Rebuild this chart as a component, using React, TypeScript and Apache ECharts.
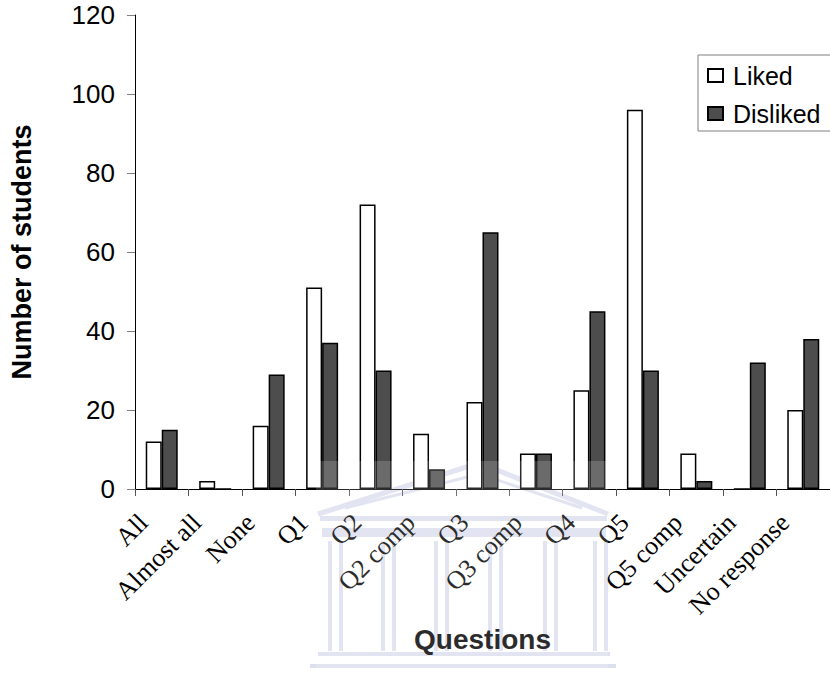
import React, { useEffect, useRef } from "react";
import * as echarts from "echarts";

const categories = [
  "All",
  "Almost all",
  "None",
  "Q1",
  "Q2",
  "Q2 comp",
  "Q3",
  "Q3 comp",
  "Q4",
  "Q5",
  "Q5 comp",
  "Uncertain",
  "No response",
];
const liked = [12, 2, 16, 51, 72, 14, 22, 9, 25, 96, 9, 0, 20];
const disliked = [15, 0, 29, 37, 30, 5, 65, 9, 45, 30, 2, 32, 38];
const seriesNames = ["Liked", "Disliked"];

const SANS = "Liberation Sans, Arial, sans-serif";
const SERIF = "Liberation Serif, Times New Roman, serif";
const MARK = "#dcdfee";

// faint university-building emblem behind the lower part of the plot
function emblem() {
  const colX = [328, 381, 434, 488, 543, 593];
  const cols: any[] = [];
  colX.forEach((x) => {
    cols.push({ type: "rect", shape: { x, y: 541, width: 4, height: 110 }, style: { fill: MARK } });
    cols.push({ type: "rect", shape: { x: x + 11, y: 541, width: 4, height: 110 }, style: { fill: MARK } });
  });
  return [
    {
      type: "rect",
      shape: { x: 316, y: 461, width: 292, height: 216 },
      style: { fill: "rgba(255,255,255,0.17)" },
      z: 100,
    },
    {
      type: "group",
      z: 0,
      children: [
        { type: "polyline", shape: { points: [[318, 514], [479, 463], [608, 514]] }, style: { stroke: MARK, lineWidth: 5, fill: null } },
        { type: "polyline", shape: { points: [[345, 508], [479, 474], [582, 508]] }, style: { stroke: MARK, lineWidth: 3, fill: null } },
        { type: "rect", shape: { x: 320, y: 516, width: 287, height: 5 }, style: { fill: MARK } },
        { type: "rect", shape: { x: 322, y: 528, width: 284, height: 9 }, style: { fill: MARK } },
        ...cols,
        { type: "rect", shape: { x: 318, y: 652, width: 292, height: 4 }, style: { fill: MARK } },
        { type: "rect", shape: { x: 310, y: 664, width: 306, height: 4 }, style: { fill: MARK } },
      ],
    },
  ];
}

export default function App() {
  const ref = useRef<HTMLDivElement>(null);

  useEffect(() => {
    if (!ref.current) return;
    const chart = echarts.init(ref.current, null, { renderer: "svg" });
    chart.setOption({
      animation: false,
      backgroundColor: "#ffffff",
      grid: { left: 123, top: 15, width: 712, height: 474, containLabel: false },
      legend: {
        data: seriesNames,
        orient: "vertical",
        left: 698,
        top: 55,
        icon: "rect",
        itemWidth: 15,
        itemHeight: 13,
        itemGap: 13,
        padding: [8, 60, 5, 9],
        borderColor: "#808080",
        borderWidth: 1,
        backgroundColor: "#ffffff",
        textStyle: { fontFamily: SANS, fontSize: 25, color: "#000", padding: [0, 0, 0, 5] },
      },
      xAxis: {
        type: "category",
        data: categories,
        name: "Questions",
        nameLocation: "middle",
        nameGap: 120,
        nameTextStyle: { fontFamily: SANS, fontSize: 28, fontWeight: "bold", color: "#000" },
        axisLine: { lineStyle: { color: "#000", width: 1 } },
        axisTick: { show: true, alignWithLabel: false, length: 7, lineStyle: { color: "#555" } },
        axisLabel: {
          interval: 0,
          rotate: 45,
          margin: 11,
          padding: [0, 26, 0, 0],
          fontFamily: SERIF,
          fontSize: 26,
          color: "#000",
        },
      },
      yAxis: {
        type: "value",
        min: 0,
        max: 120,
        interval: 20,
        name: "Number of students",
        nameLocation: "middle",
        nameRotate: 90,
        nameGap: 100,
        nameTextStyle: { fontFamily: SANS, fontSize: 27, fontWeight: "bold", color: "#000" },
        axisLine: { show: true, lineStyle: { color: "#000", width: 1 } },
        axisTick: { show: true, length: 8, lineStyle: { color: "#808080" } },
        splitLine: { show: false },
        axisLabel: { fontFamily: SANS, fontSize: 26, color: "#000", margin: 20 },
      },
      series: [
        {
          name: seriesNames[0],
          type: "bar",
          data: liked,
          barWidth: 16,
          barGap: "0%",
          itemStyle: { color: "#ffffff", borderColor: "#000", borderWidth: 1.5 },
        },
        {
          name: seriesNames[1],
          type: "bar",
          data: disliked,
          barWidth: 16,
          barGap: "0%",
          itemStyle: { color: "#4d4d4d", borderColor: "#000", borderWidth: 1.5 },
        },
      ],
      graphic: emblem(),
    });
    return () => chart.dispose();
  }, []);

  return (
    <div
      ref={ref}
      style={{ position: "absolute", left: 0, top: 0, width: 830, height: 677 }}
    />
  );
}
